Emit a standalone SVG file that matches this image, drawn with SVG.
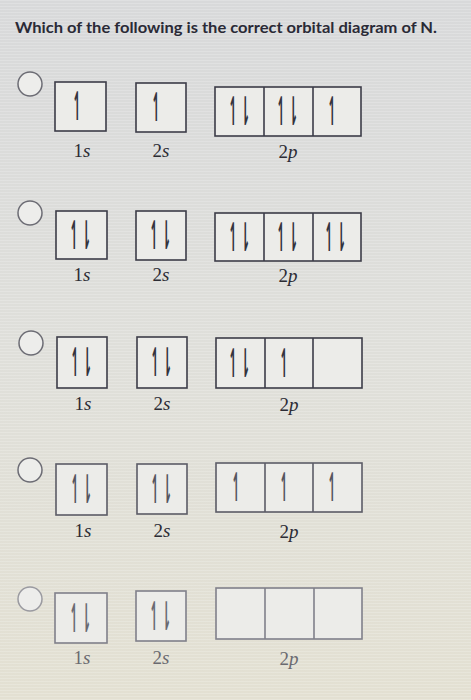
<svg xmlns="http://www.w3.org/2000/svg" width="471" height="700" viewBox="0 0 471 700">
<defs>
<linearGradient id="bg" x1="0" y1="0" x2="0" y2="1">
<stop offset="0" stop-color="#d8d9da"/>
<stop offset="0.5" stop-color="#dfdfda"/>
<stop offset="1" stop-color="#e3e0d2"/>
</linearGradient>
<pattern id="scan" width="4" height="3" patternUnits="userSpaceOnUse">
<rect width="4" height="1" fill="#ffffff" opacity="0.18"/>
</pattern>
</defs>
<style>
.box{fill:#ecece9;stroke:#3c3c48;stroke-width:1.6}
.div{stroke:#3c3c48;stroke-width:1.6}
.rad{fill:#ededeb;stroke:#6c6c74;stroke-width:1.5}
.e{font-family:"DejaVu Sans",sans-serif;font-weight:bold;font-size:28px;fill:#34343e;text-anchor:middle;letter-spacing:3px}
.lb{font-family:"Liberation Serif",serif;font-size:19px;fill:#2c2c34;text-anchor:middle}
.lb tspan{font-style:italic}
.r4 .box,.r4 .div{stroke:#5c5c66}
.r4 .e{fill:#55555e}
.r5 .box,.r5 .div{stroke:#80808a}
.r5 .e{fill:#6a6a72}
.r5 .lb{fill:#6a6a70}
.r5 .rad{stroke:#9a9aa0}
</style>
<rect width="471" height="700" fill="url(#bg)"/>
<rect width="471" height="700" fill="url(#scan)"/>
<text x="15" y="33" font-family="Lato, sans-serif" font-weight="bold" font-size="16" fill="#2a2a36" textLength="422" lengthAdjust="spacingAndGlyphs">Which of the following is the correct orbital diagram of N.</text>

<g id="optA" class="r1">
<circle class="rad" cx="30" cy="84" r="12"/>
<rect class="box" x="55" y="82" width="51" height="49"/>
<rect class="box" x="136" y="83" width="50" height="49"/>
<rect class="box" x="215" y="87" width="146" height="49"/>
<line class="div" x1="264" y1="87" x2="264" y2="136"/>
<line class="div" x1="313" y1="87" x2="313" y2="136"/>
<text class="e" transform="translate(78,120) scale(0.45,1.4)">↿</text>
<text class="e" transform="translate(157,121) scale(0.45,1.4)">↿</text>
<text class="e" transform="translate(240,125) scale(0.45,1.4)">↿⇂</text>
<text class="e" transform="translate(288,125) scale(0.45,1.4)">↿⇂</text>
<text class="e" transform="translate(333,125) scale(0.45,1.4)">↿</text>
<text class="lb" x="82" y="157">1<tspan>s</tspan></text>
<text class="lb" x="161" y="157">2<tspan>s</tspan></text>
<text class="lb" x="288" y="158">2<tspan>p</tspan></text>
</g>

<g id="optB" class="r2">
<circle class="rad" cx="30" cy="213" r="12"/>
<rect class="box" x="56" y="211" width="51" height="48"/>
<rect class="box" x="136" y="211" width="50" height="49"/>
<rect class="box" x="215" y="213" width="146" height="48"/>
<line class="div" x1="264" y1="213" x2="264" y2="261"/>
<line class="div" x1="313" y1="213" x2="313" y2="261"/>
<text class="e" transform="translate(81,249) scale(0.45,1.4)">↿⇂</text>
<text class="e" transform="translate(161,249) scale(0.45,1.4)">↿⇂</text>
<text class="e" transform="translate(240,251) scale(0.45,1.4)">↿⇂</text>
<text class="e" transform="translate(288,251) scale(0.45,1.4)">↿⇂</text>
<text class="e" transform="translate(336,251) scale(0.45,1.4)">↿⇂</text>
<text class="lb" x="82" y="281">1<tspan>s</tspan></text>
<text class="lb" x="161" y="281">2<tspan>s</tspan></text>
<text class="lb" x="288" y="282">2<tspan>p</tspan></text>
</g>

<g id="optC" class="r3">
<circle class="rad" cx="31" cy="343" r="12"/>
<rect class="box" x="57" y="337" width="50" height="51"/>
<rect class="box" x="137" y="337" width="50" height="51"/>
<rect class="box" x="216" y="338" width="146" height="50"/>
<line class="div" x1="265" y1="338" x2="265" y2="388"/>
<line class="div" x1="313" y1="338" x2="313" y2="388"/>
<text class="e" transform="translate(82,376) scale(0.45,1.4)">↿⇂</text>
<text class="e" transform="translate(162,376) scale(0.45,1.4)">↿⇂</text>
<text class="e" transform="translate(240,377) scale(0.45,1.4)">↿⇂</text>
<text class="e" transform="translate(285,377) scale(0.45,1.4)">↿</text>
<text class="lb" x="83" y="410">1<tspan>s</tspan></text>
<text class="lb" x="162" y="410">2<tspan>s</tspan></text>
<text class="lb" x="289" y="411">2<tspan>p</tspan></text>
</g>

<g id="optD" class="r4">
<circle class="rad" cx="30" cy="470" r="12"/>
<rect class="box" x="56" y="464" width="51" height="51"/>
<rect class="box" x="137" y="464" width="50" height="50"/>
<rect class="box" x="216" y="463" width="146" height="49"/>
<line class="div" x1="265" y1="463" x2="265" y2="512"/>
<line class="div" x1="313" y1="463" x2="313" y2="512"/>
<text class="e" transform="translate(82,503) scale(0.45,1.4)">↿⇂</text>
<text class="e" transform="translate(162,503) scale(0.45,1.4)">↿⇂</text>
<text class="e" transform="translate(237,501) scale(0.45,1.4)">↿</text>
<text class="e" transform="translate(285,501) scale(0.45,1.4)">↿</text>
<text class="e" transform="translate(333,501) scale(0.45,1.4)">↿</text>
<text class="lb" x="83" y="537">1<tspan>s</tspan></text>
<text class="lb" x="162" y="537">2<tspan>s</tspan></text>
<text class="lb" x="289" y="538">2<tspan>p</tspan></text>
</g>

<g id="optE" class="r5">
<circle class="rad" cx="30" cy="599" r="12"/>
<rect class="box" x="55" y="593" width="52" height="50"/>
<rect class="box" x="136" y="591" width="50" height="50"/>
<rect class="box" x="216" y="588" width="146" height="51"/>
<line class="div" x1="265" y1="588" x2="265" y2="639"/>
<line class="div" x1="314" y1="588" x2="314" y2="639"/>
<text class="e" transform="translate(81,632) scale(0.45,1.4)">↿⇂</text>
<text class="e" transform="translate(161,630) scale(0.45,1.4)">↿⇂</text>
<text class="lb" x="82" y="664">1<tspan>s</tspan></text>
<text class="lb" x="161" y="664">2<tspan>s</tspan></text>
<text class="lb" x="289" y="665">2<tspan>p</tspan></text>
</g>
</svg>
